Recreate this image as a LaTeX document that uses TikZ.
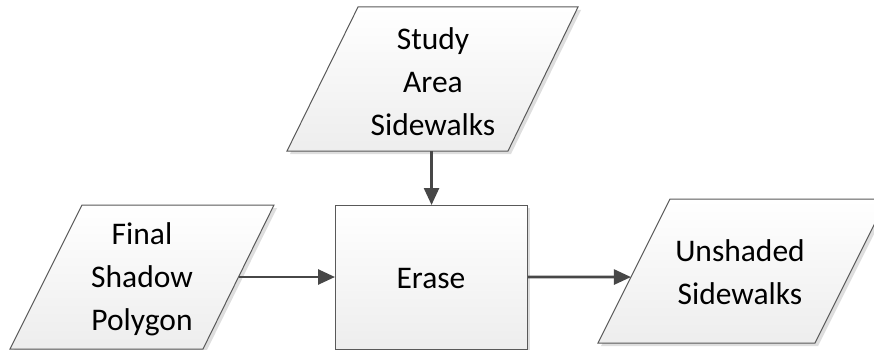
\documentclass[tikz,border=0pt]{standalone}
\usepackage{fontspec}
\setmainfont{Carlito}
\usetikzlibrary{calc,arrows.meta}

\begin{document}
\begin{tikzpicture}[x=1pt,y=-1pt,
  shapebox/.style={draw=black!65,line width=1pt,top color=white,bottom color=black!7},
  dropshadow/.style={fill=black!13,draw=none},
  txt/.style={align=center,inner sep=0pt,font=\fontsize{31.5}{43}\selectfont,text=black},
  flow/.style={draw=black!72,line width=2.6pt,-{Triangle[length=17pt,width=15pt]}}]
\useasboundingbox (0,0) rectangle (874,350);
\clip (0,0) rectangle (874,350);

% corner points of the three data parallelograms
\coordinate (tTL) at (358,7);   \coordinate (tTR) at (578,7);
\coordinate (tBR) at (508,151); \coordinate (tBL) at (287,151);
\coordinate (lTL) at (82,205);  \coordinate (lTR) at (274,205);
\coordinate (lBR) at (203,349); \coordinate (lBL) at (10,349);
\coordinate (rTL) at (670,199); \coordinate (rTR) at (887,199);
\coordinate (rBR) at (815,343); \coordinate (rBL) at (598,343);

% soft shadows
\foreach \a/\b/\c/\d in {tTL/tTR/tBR/tBL,lTL/lTR/lBR/lBL,rTL/rTR/rBR/rBL}
  \fill[dropshadow] ($(\a)+(3,3)$) -- ($(\b)+(3,3)$) -- ($(\c)+(3,3)$) -- ($(\d)+(3,3)$) -- cycle;
\fill[dropshadow] (338,208) rectangle (530,352);

% shapes
\path[shapebox] (tTL) -- (tTR) -- (tBR) -- (tBL) -- cycle;
\path[shapebox] (lTL) -- (lTR) -- (lBR) -- (lBL) -- cycle;
\path[shapebox] (rTL) -- (rTR) -- (rBR) -- (rBL) -- cycle;
\node[shapebox,rectangle,minimum width=192pt,minimum height=144pt,inner sep=0pt,anchor=north west] (erase) at (335,205) {};

% labels
\node[txt] (study) at (433,82) {Study\\Area\\Sidewalks};
\node[txt] (final) at (142,279) {Final\\Shadow\\Polygon};
\node[txt] (eraselbl) at (431,279) {Erase};
\node[txt] (unshaded) at (740,272) {Unshaded\\Sidewalks};

% connector end points on the slanted sides
\coordinate (studyout) at ($(tBL)!0.654!(tBR)$);
\coordinate (finalout) at ($(lTR)!0.5!(lBR)$);
\coordinate (unshadedin) at ($(rTL)!0.542!(rBL)$);

% connectors
\draw[flow] (studyout) -- (studyout |- erase.north);
\draw[flow] (finalout) -- (finalout -| erase.west);
\draw[flow] (finalout -| erase.east) -- (unshadedin);
\end{tikzpicture}
\end{document}
